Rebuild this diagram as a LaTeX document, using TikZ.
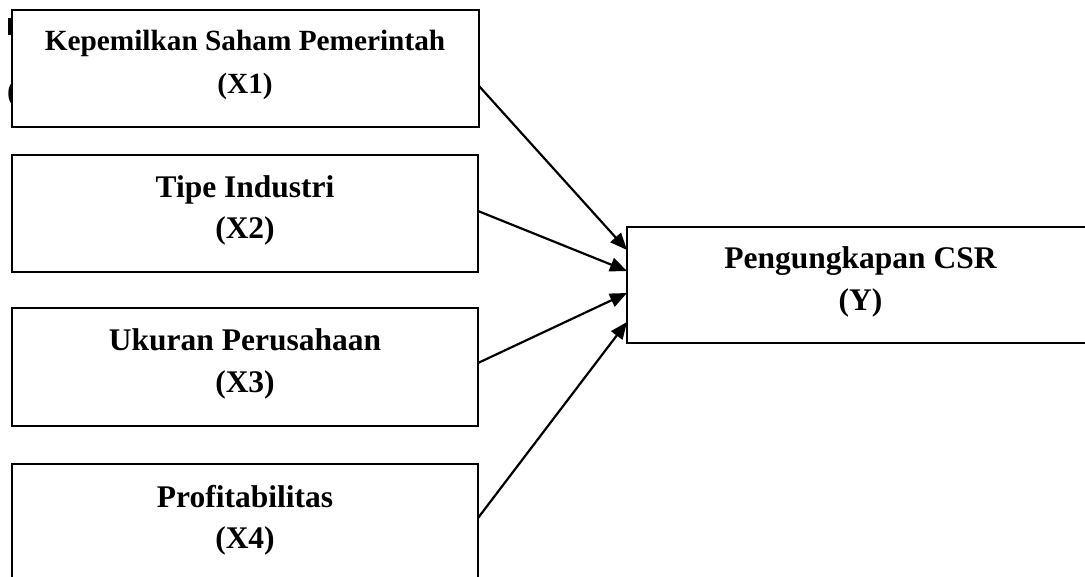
\documentclass[tikz,border=0pt]{standalone}
\usepackage{fontspec}
\setmainfont{Liberation Serif}
\usetikzlibrary{arrows.meta}
\begin{document}
\begin{tikzpicture}[x=1pt,y=-1pt,
  varbox/.style={draw=black,line width=2pt,fill=white,inner sep=0pt,outer sep=0pt},
  lbl/.style={anchor=base,inner sep=0pt,font=\fontsize{31.5}{40}\selectfont\bfseries},
  lblsmall/.style={anchor=base,inner sep=0pt,font=\fontsize{29.3}{40}\selectfont\bfseries},
  conn/.style={line width=2.2pt,-{Triangle[length=17pt,width=14pt]}}]
\useasboundingbox (0,0) rectangle (1085,576);
\clip (0,0) rectangle (1085,576);
% fragments at left edge
\fill[black] (8,18) rectangle (11.5,35);
\node[lbl,anchor=base west] (frag) at (7,101) {(};
% boxes
\node[varbox,minimum width=467pt,minimum height=117pt] (x1) at (245.5,68.5) {};
\node[varbox,minimum width=466pt,minimum height=117pt] (x2) at (245,213.5) {};
\node[varbox,minimum width=466pt,minimum height=118pt] (x3) at (245,367) {};
\node[varbox,minimum width=466pt,minimum height=118pt] (x4) at (245,523) {};
\node[varbox,minimum width=467pt,minimum height=116pt] (y) at (860.5,285) {};
% texts
\node[lblsmall] (t1a) at (245,50) {Kepemilkan Saham Pemerintah};
\node[lblsmall] (t1b) at (245,93) {(X1)};
\node[lbl] (t2a) at (245,197) {Tipe Industri};
\node[lbl] (t2b) at (245,238) {(X2)};
\node[lbl] (t3a) at (245,350) {Ukuran Perusahaan};
\node[lbl] (t3b) at (245,392) {(X3)};
\node[lbl] (t4a) at (245,507) {Profitabilitas};
\node[lbl] (t4b) at (245,548) {(X4)};
\node[lbl] (tya) at (860.5,268) {Pengungkapan CSR};
\node[lbl] (tyb) at (860.5,310) {(Y)};
% connectors
\draw[conn] ([yshift=-17.5pt]x1.east) -- ([yshift=35pt]y.west);
\draw[conn] ([yshift=2.5pt]x2.east) -- ([yshift=14pt]y.west);
\draw[conn] ([yshift=4pt]x3.east) -- ([yshift=-8pt]y.west);
\draw[conn] ([yshift=5pt]x4.east) -- ([yshift=-37pt]y.west);
\end{tikzpicture}
\end{document}
